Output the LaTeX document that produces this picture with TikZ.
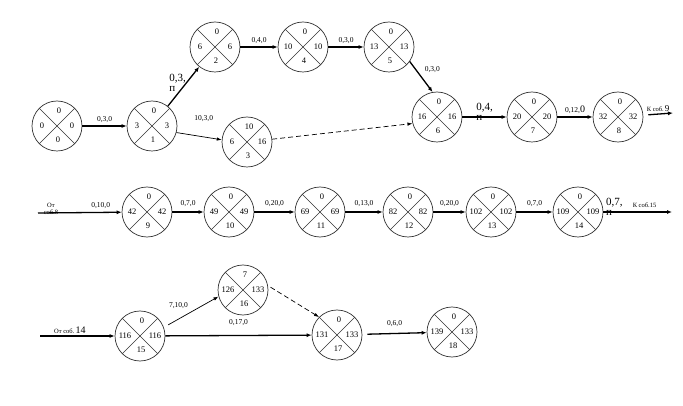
\documentclass[tikz,border=0pt]{standalone}
\usepackage{fontspec}
\setmainfont{Liberation Serif}
\usetikzlibrary{positioning,arrows.meta}

\tikzset{
    event/.style={circle, draw=black!80, line width=0.7pt, minimum size=50pt, inner sep=0pt},
    cross/.style={draw=black!80, line width=0.6pt},
    num/.style={font=\fontsize{8.5}{9}\selectfont, inner sep=0pt},
    lbl/.style={font=\fontsize{7.5}{8}\selectfont, inner sep=3pt},
    big/.style={font=\fontsize{11}{10}\selectfont, inner sep=0pt, align=left},
    note/.style={font=\fontsize{6.5}{7}\selectfont, inner sep=1pt, align=center},
    work/.style={-{Latex[length=5pt,width=4pt]}, line width=1.3pt},
    thinwork/.style={-{Latex[length=5pt,width=3.5pt]}, line width=0.7pt},
    dummy/.style={-{Latex[length=5pt,width=3.5pt]}, line width=0.7pt, dash pattern=on 5pt off 3pt},
}

\begin{document}
\begin{tikzpicture}[x=1pt,y=-1pt]
    \useasboundingbox (0,0) rectangle (683,406);
    % Eventi: nome, posizione, riserva, inizio, fine, numero
    \foreach \n/\x/\y/\tp/\lf/\rt/\bt in {
        0/57/126/0/0/0/0, 1/152/126/0/3/3/1, 2/215/47/0/6/6/2, 3/247/142/10/6/16/3,
        4/303/47/0/10/10/4, 5/389/47/0/13/13/5, 6/437/117/0/16/16/6, 7/532/117/0/20/20/7,
        8/618/117/0/32/32/8,
        9/147/212/0/42/42/9, 10/229/212/0/49/49/10, 11/320/212/0/69/69/11,
        12/408/212/0/82/82/12, 13/491/212/0/102/102/13, 14/578/212/0/109/109/14,
        15/140/336/0/116/116/15, 16/243/290/7/126/133/16, 17/337/335/0/131/133/17,
        18/452/332/0/139/133/18} {
        \node[event] (e\n) at (\x,\y) {};
        \draw[cross] (e\n.north west) -- (e\n.south east);
        \draw[cross] (e\n.north east) -- (e\n.south west);
        \node[num] (e\n-t) at ([xshift=2pt,yshift=15pt]e\n.center) {\tp};
        \node[num] (e\n-l) at ([xshift=-15pt]e\n.center) {\lf};
        \node[num] (e\n-r) at ([xshift=15pt]e\n.center) {\rt};
        \node[num] (e\n-b) at ([xshift=1pt,yshift=-14pt]e\n.center) {\bt};
    }
    % Estremi liberi
    \coordinate (out9) at (673,113);
    \coordinate (in8) at (38,213);
    \coordinate (out15) at (672,212);
    \coordinate (in14) at (40,336);

    % Prima riga
    \draw[work] (e0) -- node[lbl, above] {0,3,0} (e1);
    \draw[work] (e1) -- node[big, pos=0.6, left] {0,3,\\п} (e2);
    \draw[thinwork] (e1.-15) -- node[lbl, pos=0.6, above=12pt] {10,3,0} (e3.175);
    \draw[work] (e2) -- node[lbl, above] {0,4,0} (e4);
    \draw[work] (e4) -- node[lbl, above] {0,3,0} (e5);
    \draw[work] (e5.-35) -- node[lbl, above right] {0,3,0} (e6.100);
    \draw[dummy] (e3) -- (e6.195);
    \draw[work] (e6) -- node[big, midway, yshift=5pt] {0,4,\\п} (e7);
    \draw[work] (e7) -- node[lbl, above] {0,12,{\fontsize{10}{10}\selectfont 0}} (e8);
    \draw[work, shorten <=5pt] (e8) -- node[note, above=1pt] {К соб.\,{\fontsize{9}{9}\selectfont 9}} (out9);

    % Seconda riga
    \draw[work] (in8) -- node[lbl, pos=0.75, above] {0,10,0} (e9);
    \node[note] (from8) at (51,209) {От\\соб.8};
    \draw[work] (e9) -- node[lbl, above=2pt] {0,7,0} (e10);
    \draw[work] (e10) -- node[lbl, above=2pt] {0,20,0} (e11);
    \draw[work] (e11) -- node[lbl, above=2pt] {0,13,0} (e12);
    \draw[work] (e12) -- node[lbl, above=2pt] {0,20,0} (e13);
    \draw[work] (e13) -- node[lbl, above=2pt] {0,7,0} (e14);
    \draw[work] (e14) -- node[big, at start, anchor=west, xshift=2pt, yshift=5pt] {0,7,\\п}
        node[note, pos=0.6, above=3pt] {К соб.15} (out15);

    % Terza riga
    \draw[work] (in14) -- node[note, pos=0.4, above=1pt] {От соб.\,{\fontsize{10}{10}\selectfont 14}} (e15);
    \draw[thinwork, shorten <=5pt] (e15.20) -- node[lbl, above left] {7,10,0} (e16.195);
    \draw[work] (e15) -- node[lbl, above=6pt] {0,17,0} (e17);
    \draw[dummy, shorten <=3pt] (e16.10) -- (e17.135);
    \draw[work, shorten <=5pt] (e17) -- node[lbl, above=3pt] {0,6,0} (e18);
\end{tikzpicture}
\end{document}
